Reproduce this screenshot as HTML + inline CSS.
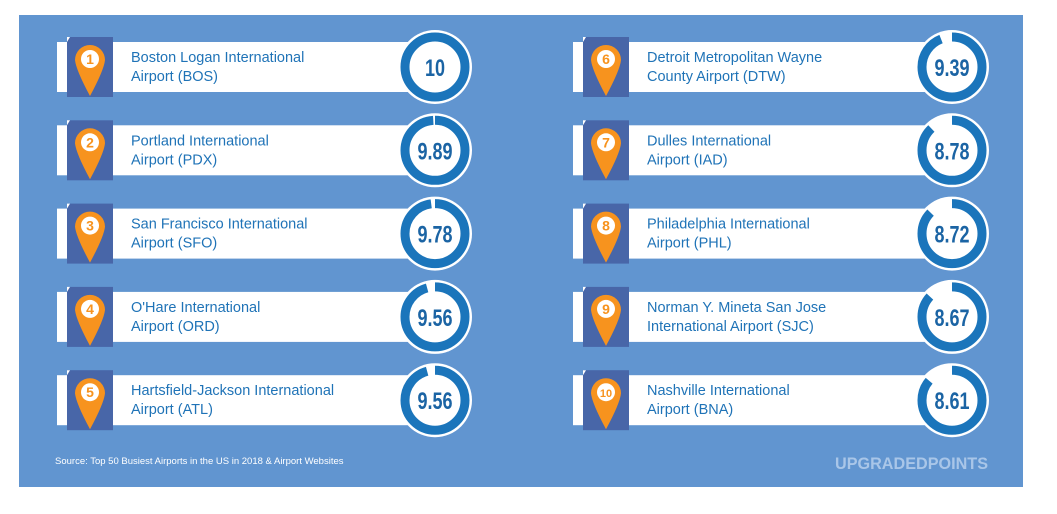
<!DOCTYPE html><html><head><style>
body{margin:0;width:1057px;height:509px;background:#fff;overflow:hidden;font-family:"Liberation Sans",sans-serif}
</style></head><body>
<svg width="1057" height="509" xmlns="http://www.w3.org/2000/svg" font-family="Liberation Sans, sans-serif">
<rect x="19" y="15" width="1004" height="472" fill="#6195d0"/>
<g id="rows"></g>
<text x="55" y="464" font-size="9.5" fill="#fff">Source: Top 50 Busiest Airports in the US in 2018 &amp; Airport Websites</text>
<text x="835" y="469" font-size="17" font-weight="bold" fill="#a9c6e8" textLength="153" lengthAdjust="spacingAndGlyphs">UPGRADEDPOINTS</text>
</svg>
<script>
const d=[["Boston Logan International","Airport (BOS)","10"],["Portland International","Airport (PDX)","9.89"],["San Francisco International","Airport (SFO)","9.78"],["O'Hare International","Airport (ORD)","9.56"],["Hartsfield-Jackson International","Airport (ATL)","9.56"],["Detroit Metropolitan Wayne","County Airport (DTW)","9.39"],["Dulles International","Airport (IAD)","8.78"],["Philadelphia International","Airport (PHL)","8.72"],["Norman Y. Mineta San Jose","International Airport (SJC)","8.67"],["Nashville International","Airport (BNA)","8.61"]];
let s="";
d.forEach((r,i)=>{const col=i<5?0:1,row=i%5;const ox=col?516:0;const cy=67+row*83.3;
const bx=57+ox,cx=435+ox+(col?1:0);
s+=`<rect x="${bx}" y="${cy-25}" width="${cx-bx}" height="50" fill="#fff"/>`;
s+=`<rect x="${bx+10}" y="${cy-30}" width="46" height="60" fill="#4866a8"/>`;
s+=`<polygon points="${bx+10},${cy-25} ${bx+13},${cy-30} ${bx+10},${cy-30}" fill="#fff"/>`;
const px=bx+33,py=cy-7;
s+=`<path d="M${px-15},${py} A15,15 0 1 1 ${px+15},${py} Q${px+14},${py+10} ${px},${py+36} Q${px-14},${py+10} ${px-15},${py}Z" fill="#f7931e"/>`;
s+=`<circle cx="${px}" cy="${py-1}" r="9" fill="#fff"/><text x="${px}" y="${py+4}" font-size="${i==9?11:14}" font-weight="bold" fill="#f7931e" text-anchor="middle">${i+1}</text>`;
s+=`<text x="${bx+74}" y="${cy-5}" font-size="14.5" fill="#1f73b7">${r[0]}</text><text x="${bx+74}" y="${cy+14}" font-size="14.5" fill="#1f73b7">${r[1]}</text>`;
const v=parseFloat(r[2])/10,R=30,C=2*Math.PI*R;
s+=`<circle cx="${cx}" cy="${cy}" r="37" fill="#fff"/><circle cx="${cx}" cy="${cy}" r="${R}" fill="none" stroke="#1b75bb" stroke-width="9" stroke-dasharray="${C*v} ${C}" transform="rotate(-90 ${cx} ${cy})"/>`;
s+=`<text x="${cx}" y="${cy+9}" font-size="24" font-weight="bold" fill="#1b64a4" text-anchor="middle" transform="translate(${cx} 0) scale(0.75 1) translate(${-cx} 0)">${r[2]}</text>`;
});
document.getElementById("rows").innerHTML=s;
</script>
</body></html>
